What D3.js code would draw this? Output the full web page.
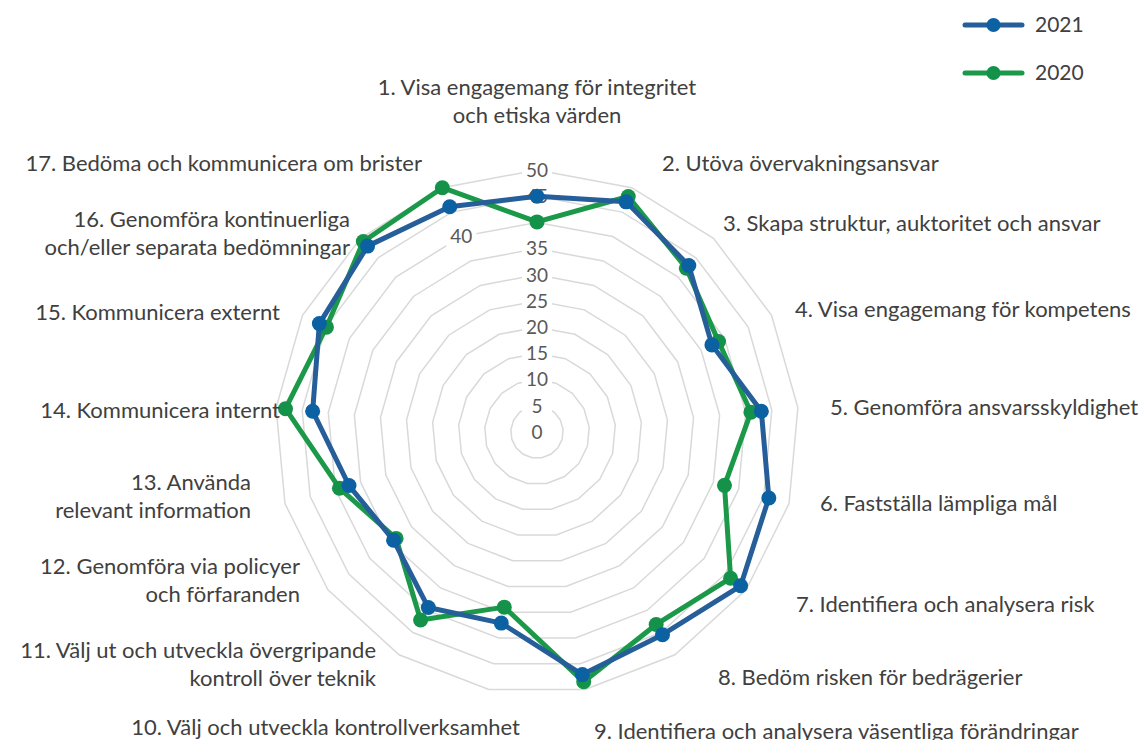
<!DOCTYPE html>
<html>
<head>
<meta charset="utf-8">
<script src="https://cdn.jsdelivr.net/npm/d3@7"></script>
<style>
  body { margin: 0; background: #fff; }
  text { font-family: Lato, "Noto Sans", sans-serif; }
</style>
</head>
<body>
<svg id="radar"></svg>
<script>
// categories (axis labels, may be multi-line)
var categories = [
  ["1. Visa engagemang för integritet", "och etiska värden"],
  ["2. Utöva övervakningsansvar"],
  ["3. Skapa struktur, auktoritet och ansvar"],
  ["4. Visa engagemang för kompetens"],
  ["5. Genomföra ansvarsskyldighet"],
  ["6. Fastställa lämpliga mål"],
  ["7. Identifiera och analysera risk"],
  ["8. Bedöm risken för bedrägerier"],
  ["9. Identifiera och analysera väsentliga förändringar"],
  ["10. Välj och utveckla kontrollverksamhet"],
  ["11. Välj ut och utveckla övergripande", "kontroll över teknik"],
  ["12. Genomföra via policyer", "och förfaranden"],
  ["13. Använda", "relevant information"],
  ["14. Kommunicera internt"],
  ["15. Kommunicera externt"],
  ["16. Genomföra kontinuerliga", "och/eller separata bedömningar"],
  ["17. Bedöma och kommunicera om brister"]
];
var values2021 = [45, 47.1, 43, 37.3, 43, 46, 48.7, 45.5, 47.1, 37.1, 39.4, 34.3, 37.3, 43, 46.4, 48, 46.1];
var values2020 = [40.1, 48.2, 42.3, 38.7, 41, 37.2, 46.3, 43.2, 48.5, 34, 42.2, 33.7, 39.2, 48.2, 44.9, 49.2, 50];
var ticks = [0, 5, 10, 15, 20, 25, 30, 35, 40, 45, 50];

var series = [
  {name: "2020", values: values2020, line: "#1b9848", dot: "#159249"},
  {name: "2021", values: values2021, line: "#255e99", dot: "#0c61a3"}
];

var width = 1139, height = 740;
var cx = 537, cy = 432, R = 262;

var svg = d3.select("#radar")
  .attr("width", width)
  .attr("height", height);

var r = d3.scaleLinear().domain([0, 50]).range([0, R]);
var n = categories.length;
var angle = function(i) { return i * 2 * Math.PI / n; };

var g = svg.append("g")
  .attr("transform", "translate(" + cx + "," + cy + ")");

// grid polygons
var gridLine = d3.lineRadial()
  .angle(function(d, i) { return angle(i); })
  .radius(function(d) { return r(d); })
  .curve(d3.curveLinearClosed);

g.selectAll(".grid")
  .data(ticks.filter(function(t) { return t > 0; }))
  .enter()
  .append("path")
  .attr("class", "grid")
  .attr("d", function(t) { return gridLine(d3.range(n).map(function() { return t; })); })
  .attr("fill", "none")
  .attr("stroke", "#d9d9d9")
  .attr("stroke-width", 1.5);

// tick labels on the first axis (40 sits on the last axis in the original)
var tickG = g.selectAll(".tick-label")
  .data(ticks)
  .enter()
  .append("g")
  .attr("class", "tick-label")
  .attr("transform", function(t) {
    var a = t === 40 ? angle(n - 1) : 0;
    var x = r(t) * Math.sin(a), y = -r(t) * Math.cos(a);
    return "translate(" + x + "," + y + ")";
  });
tickG.append("rect")
  .attr("x", -15).attr("y", -11)
  .attr("width", 30).attr("height", 22)
  .attr("fill", "#fff");
tickG.append("text")
  .attr("text-anchor", "middle")
  .attr("dy", "0.36em")
  .attr("font-size", "19px")
  .attr("fill", "#595959")
  .text(function(t) { return t; });

// series
var seriesLine = d3.lineRadial()
  .angle(function(d, i) { return angle(i); })
  .radius(function(d) { return r(d); })
  .curve(d3.curveLinearClosed);

series.forEach(function(s) {
  g.append("path")
    .attr("d", seriesLine(s.values))
    .attr("fill", "none")
    .attr("stroke", s.line)
    .attr("stroke-width", 5)
    .attr("stroke-linejoin", "round");
  g.selectAll(".dot-" + s.name)
    .data(s.values)
    .enter()
    .append("circle")
    .attr("cx", function(d, i) { return r(d) * Math.sin(angle(i)); })
    .attr("cy", function(d, i) { return -r(d) * Math.cos(angle(i)); })
    .attr("r", 7.5)
    .attr("fill", s.dot);
});

// category labels
var labelPos = [
  {x: 537, y: 87, anchor: "middle"},
  {x: 662, y: 163, anchor: "start"},
  {x: 723, y: 223, anchor: "start"},
  {x: 795, y: 309, anchor: "start"},
  {x: 830, y: 407, anchor: "start"},
  {x: 820, y: 503, anchor: "start"},
  {x: 796, y: 604, anchor: "start"},
  {x: 718, y: 677, anchor: "start"},
  {x: 594, y: 731, anchor: "start"},
  {x: 520, y: 727, anchor: "end"},
  {x: 376, y: 650, anchor: "end"},
  {x: 300, y: 566, anchor: "end"},
  {x: 251, y: 482, anchor: "end"},
  {x: 280, y: 410, anchor: "end"},
  {x: 280, y: 312, anchor: "end"},
  {x: 350, y: 219, anchor: "end"},
  {x: 422, y: 163, anchor: "end"}
];

svg.selectAll(".cat-label")
  .data(categories)
  .enter()
  .append("text")
  .attr("class", "cat-label")
  .attr("text-anchor", function(d, i) { return labelPos[i].anchor; })
  .attr("font-size", "22px")
  .attr("fill", "#404040")
  .each(function(d, i) {
    var t = d3.select(this);
    d.forEach(function(line, k) {
      t.append("tspan")
        .attr("x", labelPos[i].x)
        .attr("y", labelPos[i].y + k * 28)
        .attr("dy", "0.35em")
        .text(line);
    });
  });

// legend
var legendData = [series[1], series[0]];
var lg = svg.selectAll(".legend")
  .data(legendData)
  .enter()
  .append("g")
  .attr("class", "legend")
  .attr("transform", function(d, i) { return "translate(965," + (25 + i * 48) + ")"; });
lg.append("line")
  .attr("x1", 0).attr("x2", 57)
  .attr("stroke", function(d) { return d.line; })
  .attr("stroke-width", 5)
  .attr("stroke-linecap", "round");
lg.append("circle")
  .attr("cx", 28.5).attr("r", 7)
  .attr("fill", function(d) { return d.dot; });
lg.append("text")
  .attr("x", 70)
  .attr("dy", "0.35em")
  .attr("font-size", "21px")
  .attr("fill", "#404040")
  .text(function(d) { return d.name; });
</script>
</body>
</html>
